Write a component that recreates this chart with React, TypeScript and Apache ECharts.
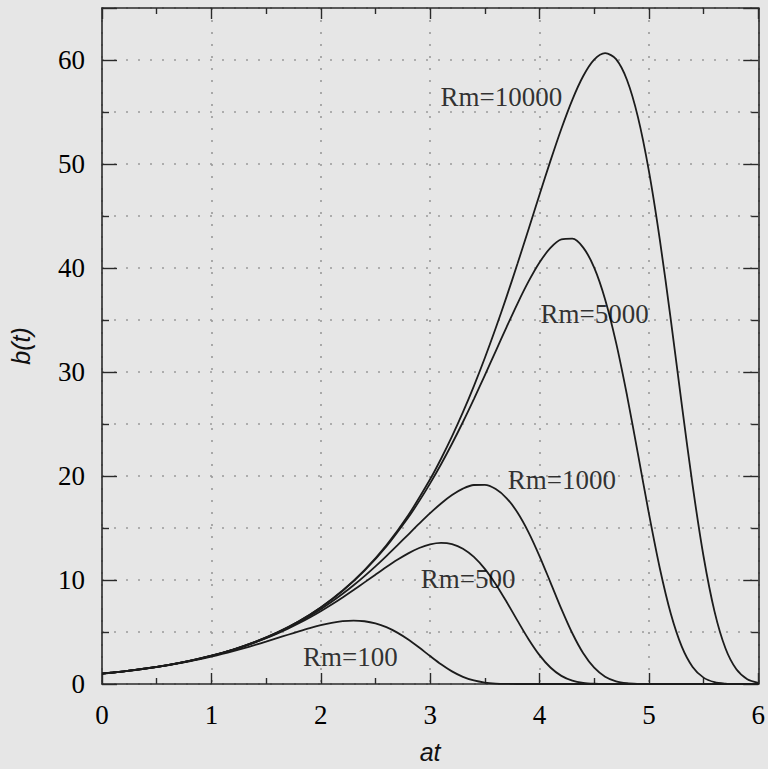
import React, { useEffect, useRef } from "react";
import * as echarts from "echarts";

// at values and b(t) values, one pair of arrays per curve
const rm100T = [0, 0.1, 0.2, 0.3, 0.4, 0.5, 0.6, 0.7, 0.8, 0.9, 1.0, 1.1, 1.2, 1.3, 1.4, 1.5, 1.6, 1.7, 1.8, 1.9, 2.0, 2.1, 2.2, 2.3, 2.4, 2.5, 2.6, 2.7, 2.8, 2.9, 3.0, 3.1, 3.2, 3.3, 3.4, 3.5, 3.6, 3.7, 3.8, 4.0, 6.0];
const rm100B = [1.0, 1.104, 1.218, 1.344, 1.483, 1.635, 1.801, 1.983, 2.182, 2.398, 2.633, 2.886, 3.158, 3.448, 3.754, 4.074, 4.403, 4.736, 5.063, 5.374, 5.652, 5.88, 6.036, 6.096, 6.034, 5.83, 5.467, 4.943, 4.276, 3.502, 2.686, 1.899, 1.216, 0.69, 0.338, 0.138, 0.045, 0.011, 0.002, 0, 0];

const rm500T = [0, 0.1, 0.2, 0.3, 0.4, 0.5, 0.6, 0.7, 0.8, 0.9, 1.0, 1.1, 1.2, 1.3, 1.4, 1.5, 1.6, 1.7, 1.8, 1.9, 2.0, 2.1, 2.2, 2.3, 2.4, 2.5, 2.6, 2.7, 2.8, 2.9, 3.0, 3.1, 3.2, 3.3, 3.4, 3.5, 3.6, 3.7, 3.8, 3.9, 4.0, 4.1, 4.2, 4.3, 4.4, 4.5, 4.6, 5.0, 6.0];
const rm500B = [1.0, 1.105, 1.221, 1.349, 1.49, 1.646, 1.818, 2.008, 2.217, 2.447, 2.701, 2.98, 3.287, 3.624, 3.993, 4.397, 4.838, 5.318, 5.838, 6.4, 7.004, 7.647, 8.327, 9.039, 9.772, 10.512, 11.243, 11.937, 12.561, 13.075, 13.432, 13.575, 13.452, 13.013, 12.221, 11.072, 9.598, 7.886, 6.066, 4.308, 2.773, 1.584, 0.782, 0.323, 0.107, 0.027, 0.005, 0, 0];

const rm1000T = [0, 0.2, 0.4, 0.6, 0.8, 1.0, 1.2, 1.4, 1.6, 1.8, 1.9, 2.0, 2.1, 2.2, 2.3, 2.4, 2.5, 2.6, 2.7, 2.8, 2.9, 3.0, 3.1, 3.2, 3.3, 3.4, 3.5, 3.6, 3.7, 3.8, 3.9, 4.0, 4.1, 4.2, 4.3, 4.4, 4.5, 4.6, 4.7, 4.8, 4.9, 5.0, 6.0];
const rm1000B = [1.0, 1.221, 1.491, 1.82, 2.221, 2.71, 3.304, 4.024, 4.895, 5.943, 6.541, 7.194, 7.902, 8.669, 9.495, 10.378, 11.316, 12.303, 13.327, 14.372, 15.415, 16.425, 17.359, 18.167, 18.783, 19.135, 19.148, 18.743, 17.859, 16.467, 14.587, 12.305, 9.777, 7.221, 4.878, 2.955, 1.567, 0.706, 0.261, 0.076, 0.016, 0.002, 0];

const rm5000T = [0, 0.2, 0.4, 0.6, 0.8, 1.0, 1.2, 1.4, 1.6, 1.8, 2.0, 2.2, 2.4, 2.6, 2.8, 2.9, 3.0, 3.1, 3.2, 3.3, 3.4, 3.5, 3.6, 3.7, 3.8, 3.9, 4.0, 4.1, 4.2, 4.3, 4.4, 4.5, 4.6, 4.7, 4.8, 4.9, 5.0, 5.1, 5.2, 5.3, 5.4, 5.5, 5.6, 5.7, 5.8, 6.0];
const rm5000B = [1.0, 1.221, 1.492, 1.822, 2.225, 2.717, 3.317, 4.049, 4.941, 6.028, 7.35, 8.953, 10.891, 13.223, 16.008, 17.585, 19.294, 21.133, 23.102, 25.194, 27.394, 29.678, 32.013, 34.346, 36.608, 38.707, 40.528, 41.93, 42.749, 42.817, 41.96, 40.037, 36.98, 32.829, 27.76, 22.124, 16.402, 11.132, 6.78, 3.621, 1.645, 0.614, 0.18, 0.04, 0.006, 0];

const rm10000T = [0, 0.2, 0.4, 0.6, 0.8, 1.0, 1.2, 1.4, 1.6, 1.8, 2.0, 2.2, 2.4, 2.6, 2.8, 3.0, 3.1, 3.2, 3.3, 3.4, 3.5, 3.6, 3.7, 3.8, 3.9, 4.0, 4.1, 4.2, 4.3, 4.4, 4.5, 4.6, 4.7, 4.8, 4.9, 5.0, 5.1, 5.2, 5.3, 5.4, 5.5, 5.6, 5.7, 5.8, 5.9, 6.0];
const rm10000B = [1.0, 1.221, 1.492, 1.822, 2.225, 2.717, 3.318, 4.052, 4.947, 6.039, 7.369, 8.989, 10.957, 13.343, 16.225, 19.686, 21.659, 23.807, 26.136, 28.65, 31.35, 34.229, 37.272, 40.453, 43.729, 47.04, 50.299, 53.394, 56.175, 58.46, 60.033, 60.654, 60.079, 58.078, 54.507, 49.339, 42.729, 35.059, 26.932, 19.087, 12.26, 6.984, 3.434, 1.412, 0.467, 0.118];

// curve labels and their anchor points (at, b)
const labelNames = ["Rm=10000", "Rm=5000", "Rm=1000", "Rm=500", "Rm=100"];
const labelAt = [3.095, 4.009, 3.71, 2.914, 1.837];
const labelB = [56.46, 35.53, 19.59, 10.08, 2.59];

const xMin = 0;
const xMax = 6;
const yMin = 0;
const yMax = 65;
const yLabelTicks = [0, 10, 20, 30, 40, 50, 60];

const curves = [
  { name: "Rm=100", t: rm100T, b: rm100B },
  { name: "Rm=500", t: rm500T, b: rm500B },
  { name: "Rm=1000", t: rm1000T, b: rm1000B },
  { name: "Rm=5000", t: rm5000T, b: rm5000B },
  { name: "Rm=10000", t: rm10000T, b: rm10000B },
];

const SERIF = "'Liberation Serif', 'DejaVu Serif', serif";
const SANS = "'Liberation Sans', Arial, sans-serif";
const AXIS_COLOR = "#2a2a2a";
const DOT = { color: "#9a9a9a", width: 1.6, type: [2, 10] as any };

export default function App() {
  const ref = useRef<HTMLDivElement>(null);

  useEffect(() => {
    if (!ref.current) return;
    const chart = echarts.init(ref.current, null, { renderer: "svg" });

    const axisLine = { show: true, onZero: false, lineStyle: { color: AXIS_COLOR, width: 1.6 } };
    const tickStyle = { color: AXIS_COLOR, width: 1.4 };

    const option: any = {
      animation: false,
      backgroundColor: "#e6e6e6",
      grid: { left: 99, right: 6, top: 8, bottom: 84, containLabel: false },
      xAxis: [
        {
          type: "value",
          position: "bottom",
          min: xMin,
          max: xMax,
          interval: 1,
          axisLine,
          axisTick: { show: true, inside: true, length: 11, lineStyle: tickStyle },
          minorTick: { show: true, splitNumber: 2, length: 6, lineStyle: tickStyle },
          splitLine: { show: true, lineStyle: DOT },
          axisLabel: { color: "#000", fontFamily: SERIF, fontSize: 27, margin: 17 },
          name: "at",
          nameLocation: "middle",
          nameGap: 55,
          nameTextStyle: { fontFamily: SANS, fontStyle: "italic", fontSize: 25, color: "#111" },
        },
        {
          type: "value",
          position: "top",
          min: xMin,
          max: xMax,
          interval: 1,
          axisLine,
          axisTick: { show: true, inside: true, length: 11, lineStyle: tickStyle },
          minorTick: { show: true, splitNumber: 2, length: 6, lineStyle: tickStyle },
          splitLine: { show: false },
          axisLabel: { show: false },
        },
      ],
      yAxis: [
        {
          type: "value",
          position: "left",
          min: yMin,
          max: yMax,
          interval: 10,
          axisLine,
          axisTick: { show: true, inside: true, length: 15, lineStyle: tickStyle },
          minorTick: { show: true, splitNumber: 2, length: 7, lineStyle: tickStyle },
          splitLine: { show: true, lineStyle: DOT },
          minorSplitLine: { show: true, lineStyle: DOT },
          axisLabel: {
            color: "#000",
            fontFamily: SERIF,
            fontSize: 27,
            margin: 17,
            showMaxLabel: false,
            formatter: (v: number) => (yLabelTicks.indexOf(v) >= 0 ? String(v) : ""),
          },
          name: "b(t)",
          nameLocation: "middle",
          nameGap: 69,
          nameRotate: 90,
          nameTextStyle: { fontFamily: SANS, fontStyle: "italic", fontSize: 25, color: "#111" },
        },
        {
          type: "value",
          position: "right",
          min: yMin,
          max: yMax,
          interval: 10,
          axisLine,
          axisTick: { show: true, inside: true, length: 15, lineStyle: tickStyle },
          minorTick: { show: true, splitNumber: 2, length: 7, lineStyle: tickStyle },
          splitLine: { show: false },
          axisLabel: { show: false },
        },
      ],
      series: [
        ...curves.map((c) => ({
          type: "line",
          name: c.name,
          xAxisIndex: 0,
          yAxisIndex: 0,
          data: c.t.map((t, i) => [t, c.b[i]]),
          showSymbol: false,
          symbol: "none",
          smooth: 0.3,
          lineStyle: { color: "#1c1c1c", width: 1.8 },
          silent: true,
          z: 3,
        })),
        {
          type: "scatter",
          xAxisIndex: 0,
          yAxisIndex: 0,
          symbolSize: 0,
          silent: true,
          z: 5,
          data: labelNames.map((n, i) => ({ value: [labelAt[i], labelB[i]], name: n })),
          label: {
            show: true,
            position: "right",
            distance: 0,
            formatter: (p: any) => p.name,
            fontFamily: SERIF,
            fontSize: 27,
            color: "#000",
          },
        },
      ],
    };

    chart.setOption(option);
    return () => chart.dispose();
  }, []);

  return (
    <div
      ref={ref}
      style={{ position: "fixed", left: 0, top: 0, width: 768, height: 769 }}
    />
  );
}
